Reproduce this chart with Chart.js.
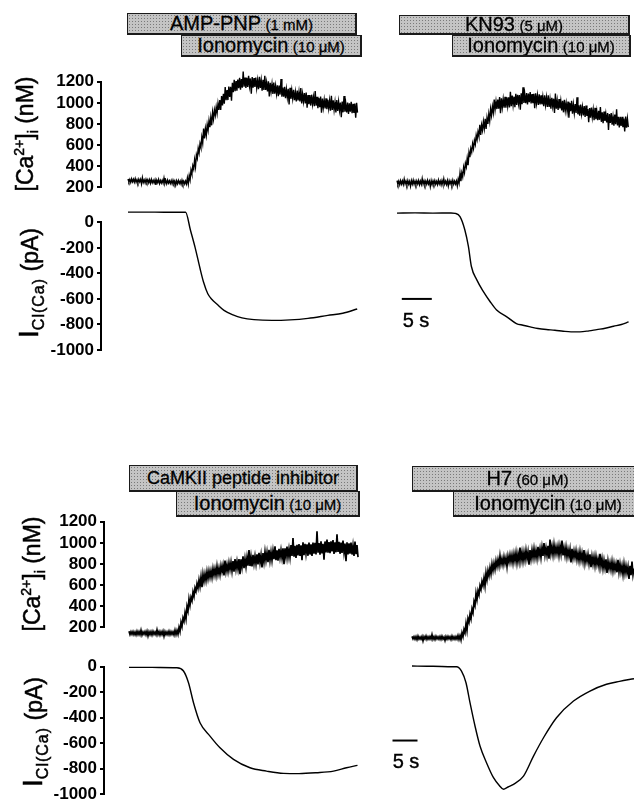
<!DOCTYPE html>
<html>
<head>
<meta charset="utf-8">
<script src="https://cdn.jsdelivr.net/npm/chart.js@4.4.1/dist/chart.umd.min.js"></script>
<style>
html,body{margin:0;padding:0;background:#fff;overflow:hidden;width:634px;height:800px;}
#wrap{position:relative;width:634px;height:800px;overflow:hidden;font-family:"Liberation Sans",Arial,Helvetica,sans-serif;color:#000;}
#wrap canvas{position:absolute;left:0;top:0;}
.bar{position:absolute;box-sizing:border-box;border:1px solid #1a1a1a;border-right-width:2px;border-bottom-width:2px;
 background-color:#c4c4c4;background-image:radial-gradient(circle,#7a7a7a 0.7px,transparent 1px);background-size:3px 3px;
 text-align:center;white-space:nowrap;overflow:hidden;-webkit-text-stroke:0.3px #000;}
.big{font-size:20px;}
.small{font-size:15px;}
.ytitle{position:absolute;transform:translate(-50%,-50%) rotate(-90deg);white-space:nowrap;line-height:1;font-size:23px;-webkit-text-stroke:0.5px #000;}
.ytitle sup,.ytitle sub{font-size:14px;line-height:0;}
.ytitle .sub2{font-size:16px;letter-spacing:1px;vertical-align:-6px;line-height:0;}
.ytitle .bigI{font-size:28px;}
.sbtext{position:absolute;transform:translateX(-50%);font-size:20px;line-height:20px;white-space:nowrap;-webkit-text-stroke:0.4px #000;}
</style>
</head>
<body>
<div id="wrap"></div>
<script>
// ---------------- DATA ----------------
const DT_TOP = 0.3;   // s between Ca samples, top row
const DT_BOT = 0.4;   // s between Ca samples, bottom row
const caTicks  = [200, 400, 600, 800, 1000, 1200];
const curTicks = [-1000, -800, -600, -400, -200, 0];

// [Ca2+]i (nM): upper and lower edge of the noisy trace at each sample
const caA_hi = [279,275,281,276,282,272,276,275,291,270,276,271,272,275,266,271,268,275,265,267,288,265,268,262,265,267,259,262,265,260,266,257,259,289,311,362,404,460,508,568,613,674,757,755,793,831,862,911,933,960,994,1026,1065,1085,1150,1121,1154,1152,1190,1218,1206,1220,1236,1224,1296,1240,1237,1255,1231,1243,1235,1240,1214,1246,1214,1218,1257,1192,1204,1189,1179,1191,1162,1165,1164,1225,1144,1152,1129,1133,1142,1119,1123,1100,1117,1103,1139,1084,1093,1097,1074,1073,1077,1054,1112,1058,1045,1059,1041,1028,1042,1029,1021,1067,1024,1007,1027,1010,1003,1013,1065,991,1003,996,1009,990,993,1001];
const caA_lo = [252,247,253,248,248,244,251,233,246,242,248,243,238,244,242,224,244,237,240,240,238,234,240,237,233,236,220,234,237,229,232,231,232,233,270,326,372,395,474,525,578,618,662,694,740,769,787,847,883,901,932,932,975,991,1024,1026,1055,1021,1100,1110,1116,1139,1124,1143,1152,1141,1151,1160,1087,1144,1150,1141,1128,1142,1115,1123,1122,1107,1060,1108,1084,1087,1086,1062,1078,1059,1058,1044,1053,985,1038,1042,1024,1014,1023,1013,995,1012,994,953,988,974,987,969,973,950,959,906,956,947,939,948,926,932,934,908,923,929,863,910,917,910,895,915,901,904,858,907];
const caB_hi = [264,258,263,261,277,259,264,256,263,267,259,261,264,258,282,261,259,266,258,263,261,264,256,269,259,263,279,258,264,261,259,266,258,260,277,332,338,389,426,475,531,568,612,644,694,725,792,789,823,849,857,895,941,964,1031,1013,1031,1054,1043,1036,1057,1051,1051,1104,1068,1058,1085,1075,1074,1090,1147,1077,1092,1088,1102,1083,1085,1091,1070,1080,1071,1057,1070,1052,1070,1035,1048,1039,1089,1022,1036,1018,1018,1028,997,1011,997,1020,984,989,1053,976,984,961,970,974,942,950,954,935,952,920,924,960,910,918,895,904,894,902,870,888,938,867,867,868,850,869,851];
const caB_lo = [229,224,231,227,232,226,229,210,231,229,227,232,224,229,231,226,229,232,207,227,231,229,226,232,224,229,231,227,213,232,226,229,231,214,239,258,300,341,392,409,485,534,568,606,652,685,696,741,757,753,800,829,881,907,938,941,945,901,958,955,954,970,956,969,978,959,981,994,934,987,999,996,984,1007,994,997,950,997,980,985,986,967,980,962,962,945,967,904,945,932,946,928,910,929,920,858,920,898,903,904,891,877,894,880,866,875,816,860,864,836,844,835,839,820,806,828,814,742,809,794,784,798,785,768,782,769,729,765,770];
const caC_hi = [163,158,160,155,162,159,172,156,160,163,158,159,162,156,176,160,158,163,159,156,162,159,158,173,170,199,248,288,336,397,468,484,535,573,613,649,677,703,706,727,734,736,756,755,779,763,783,787,831,793,811,817,827,845,824,846,843,873,849,863,931,869,886,875,892,906,885,903,916,909,934,913,925,966,928,944,932,948,947,964,942,979,1046,971,980,989,976,1004,990,986,1003,985,1002,999,1110,997,1014,990,1013,1031,1007,1013,1025,1004,1080,1010,1003,1021,992,1004,996,1003,974,1013,979];
const caC_lo = [131,134,130,128,132,131,127,134,130,118,131,128,134,130,132,127,131,116,132,131,130,134,128,131,134,160,207,256,280,355,409,452,492,541,570,588,581,636,642,660,673,672,692,691,702,699,726,691,729,729,747,733,726,752,753,703,771,760,773,783,780,776,802,799,796,813,768,819,832,816,833,833,845,836,831,860,856,797,867,863,863,875,869,856,881,875,835,884,896,877,889,875,898,890,907,888,900,840,909,906,903,919,895,910,913,896,904,911,825,890,897,889,876,893,864];
const caD_hi = [114,111,112,116,108,113,111,118,110,112,130,111,114,110,113,116,108,112,114,111,117,110,112,123,121,147,179,235,283,323,373,442,523,546,593,635,667,716,738,765,799,807,831,840,876,851,866,857,873,886,886,894,906,894,955,910,910,929,915,931,931,943,928,963,944,956,998,952,972,1030,966,982,962,968,969,1022,952,959,937,939,944,923,925,904,917,903,931,883,889,891,870,868,870,848,896,848,834,844,827,813,823,810,801,839,800,784,799,783,775,782,823,758];
const caD_lo = [90,87,83,89,88,72,90,86,88,89,87,84,90,88,86,89,75,88,90,84,88,87,89,86,80,111,147,170,249,280,338,406,462,507,559,595,592,652,688,706,737,749,775,781,798,792,804,775,817,819,810,826,811,826,834,826,838,850,794,847,859,859,855,876,861,876,884,880,850,900,886,895,898,881,897,881,880,867,873,814,857,859,841,831,837,827,810,823,805,770,798,784,794,776,778,757,762,715,755,745,735,742,721,725,724,701,712,715,657,694,698,690];

// I Cl(Ca) (pA) traces: time (s) and current
const curA_t = [0, 3, 6, 9.6, 10.4, 11.2, 12.0, 12.6, 13.3, 14.0, 14.8, 16.0, 17.5, 19.0, 21.0, 24.0, 27.0, 30.0, 33.3, 35.8, 38.2];
const curA_v = [80, 80, 79, 79, -60, -200, -360, -470, -560, -605, -640, -690, -725, -748, -762, -768, -764, -752, -729, -712, -679];
const curB_t = [0, 3, 6, 9.0, 9.7, 10.5, 11.3, 11.9, 12.4, 13.3, 14.4, 15.5, 16.6, 18.3, 19.9, 21.0, 22.2, 23.5, 24.9, 26.3, 27.7, 29.0, 30.5, 32.0, 33.3, 34.7, 36.1, 37.4, 38.6];
const curB_v = [72, 74, 72, 73, 70, 45, -58, -189, -346, -451, -543, -620, -687, -740, -793, -806, -819, -832, -840, -845, -853, -858, -858, -850, -840, -830, -814, -800, -780];
const curC_t = [0, 3, 6, 9.5, 10.9, 11.9, 12.9, 14.2, 16.2, 18.2, 20.9, 24.2, 27.5, 30.9, 34.0, 37.5, 40.9, 43.5, 45.7];
const curC_v = [-5, -5, -6, -8, -34, -126, -283, -440, -545, -637, -728, -794, -820, -838, -840, -833, -820, -794, -775];
const curD_t = [0, 3, 6, 8.9, 9.9, 10.8, 11.6, 12.6, 13.6, 14.9, 16.3, 17.5, 18.3, 19.2, 20.3, 22.3, 24.3, 26.3, 28.9, 32.3, 35.6, 38.9, 41.5, 44.4];
const curD_v = [5, 4, 2, 0, -34, -126, -283, -466, -623, -754, -872, -935, -963, -945, -924, -859, -702, -558, -401, -270, -191, -138, -115, -94];

// 5 s scale bars (time s, current pA)
const scaleBarTop_t = [0.8, 5.8];
const scaleBarTop_v = [-600, -600];
const scaleBarBot_t = [-3.9, 1.1];
const scaleBarBot_v = [-580, -580];

// ---------------- LAYOUT ----------------
const CW = 634, CH = 840, AW = 60;
const wrap = document.getElementById('wrap');
const FONT = "'Liberation Sans', Arial, Helvetica, sans-serif";

// noisy trace: the recorded signal swings between the upper and lower edge every half sample
function band(hi, lo, dt){
  const pts = [];
  hi.forEach((h, i) => { pts.push({x: i*dt, y: h}); pts.push({x: i*dt + dt/2, y: lo[i]}); });
  return pts;
}
function paired(ts, vs){ return ts.map((t,i)=>({x: t, y: vs[i]})); }

function traceDs(points, smooth, w){
  return { data: points, borderColor: '#000', borderWidth: w, pointRadius: 0, fill: false,
           tension: 0, cubicInterpolationMode: smooth ? 'monotone' : 'default', clip: false,
           borderJoinStyle: 'miter' };
}

function panelChart(area, xr, yr, ticks, showY, datasets){
  const c = document.createElement('canvas');
  c.width = CW; c.height = CH;
  wrap.appendChild(c);
  const yScale = { type: 'linear', display: showY, position: 'left', min: yr[0], max: yr[1],
             afterBuildTicks: s => { s.ticks = ticks.map(v => ({ value: v })); },
             grid: { display: true, drawOnChartArea: false, drawTicks: true, tickLength: 4, lineWidth: 2, color: '#000' },
             border: { display: true, color: '#000', width: 2 },
             ticks: { color: '#000', padding: 3, autoSkip: false, font: { family: FONT, size: 17, weight: 'bold' }, callback: v => String(v) } };
  if (showY) yScale.afterFit = s => { s.width = AW; };
  return new Chart(c, {
    type: 'line',
    data: { datasets },
    options: {
      responsive: false, animation: false, events: [],
      layout: { padding: { left: area.l - (showY ? AW : 0), top: area.t, right: CW - area.r, bottom: CH - area.b } },
      plugins: { legend: { display: false }, tooltip: { enabled: false }, title: { display: false } },
      scales: {
        x: { type: 'linear', display: false, min: xr[0], max: xr[1] },
        y: yScale
      }
    }
  });
}

const XR_TOP = [-4.5, 39];
const XR_BOT = [-5, 46];
const XR_BOT_R = [-5, 44.4];
const CA_W_TOP = 1.4, CA_W_BOT = 1.7, CUR_W = 1.4;

// top-left
panelChart({l:101, r:362, t:81.7, b:187.3}, XR_TOP, [200,1200], caTicks, true, [traceDs(band(caA_hi, caA_lo, DT_TOP), false, CA_W_TOP)]);
panelChart({l:101, r:362, t:222.3, b:350}, XR_TOP, [-1000,0], curTicks, true, [traceDs(paired(curA_t, curA_v), true, CUR_W)]);
// top-right
panelChart({l:370, r:631, t:81.7, b:187.3}, XR_TOP, [200,1200], caTicks, false, [traceDs(band(caB_hi, caB_lo, DT_TOP), false, CA_W_TOP)]);
panelChart({l:370, r:631, t:222.3, b:350}, XR_TOP, [-1000,0], curTicks, false, [
  traceDs(paired(curB_t, curB_v), true, CUR_W),
  traceDs(paired(scaleBarTop_t, scaleBarTop_v), false, 2)]);
// bottom-left
panelChart({l:104, r:359, t:521.7, b:627.3}, XR_BOT, [200,1200], caTicks, true, [traceDs(band(caC_hi, caC_lo, DT_BOT), false, CA_W_BOT)]);
panelChart({l:104, r:359, t:666.7, b:794}, XR_BOT, [-1000,0], curTicks, true, [traceDs(paired(curC_t, curC_v), true, CUR_W)]);
// bottom-right
panelChart({l:387, r:634, t:521.7, b:627.3}, XR_BOT_R, [200,1200], caTicks, false, [traceDs(band(caD_hi, caD_lo, DT_BOT), false, CA_W_BOT)]);
panelChart({l:387, r:634, t:666.7, b:794}, XR_BOT_R, [-1000,0], curTicks, false, [
  traceDs(paired(curD_t, curD_v), true, CUR_W),
  traceDs(paired(scaleBarBot_t, scaleBarBot_v), false, 2)]);

// ---------------- ANNOTATIONS (text) ----------------
function addBar(l, t, w, h, html){
  const d = document.createElement('div');
  d.className = 'bar';
  d.style.cssText = `left:${l}px;top:${t}px;width:${w}px;height:${h}px;line-height:${h-3}px;`;
  d.innerHTML = html;
  wrap.appendChild(d);
}
addBar(127, 13, 230, 22, '<span class="big">AMP-PNP</span> <span class="small">(1 mM)</span>');
addBar(181, 35, 181, 22, '<span class="big">Ionomycin</span> <span class="small">(10 μM)</span>');
addBar(399, 15, 231, 20, '<span class="big">KN93</span> <span class="small">(5 μM)</span>');
addBar(452, 35, 179, 22, '<span class="big">Ionomycin</span> <span class="small">(10 μM)</span>');
addBar(129, 465, 229, 27, '<span style="font-size:18px">CaMKII peptide inhibitor</span>');
addBar(176, 491, 184, 26, '<span class="big">Ionomycin</span> <span class="small">(10 μM)</span>');
addBar(412, 466, 232, 26, '<span class="big">H7</span> <span class="small">(60 μM)</span>');
addBar(453, 491, 191, 26, '<span class="big">Ionomycin</span> <span class="small">(10 μM)</span>');

function addTitle(cx, cy, html){
  const d = document.createElement('div');
  d.className = 'ytitle';
  d.style.left = cx + 'px'; d.style.top = cy + 'px';
  d.innerHTML = html;
  wrap.appendChild(d);
}
const caTitle  = '[Ca<sup>2+</sup>]<sub>i</sub> (nM)';
const curTitle = '<span class="bigI">I</span><span class="sub2">Cl(Ca)</span> (pA)';
addTitle(25, 134, caTitle);
addTitle(29, 283, curTitle);
addTitle(32, 574, caTitle);
addTitle(33, 732, curTitle);

function addSB(cx, top, txt){
  const d = document.createElement('div');
  d.className = 'sbtext';
  d.style.left = cx + 'px'; d.style.top = top + 'px';
  d.textContent = txt;
  wrap.appendChild(d);
}
addSB(416, 310, '5 s');
addSB(406, 751, '5 s');
</script>
</body>
</html>
